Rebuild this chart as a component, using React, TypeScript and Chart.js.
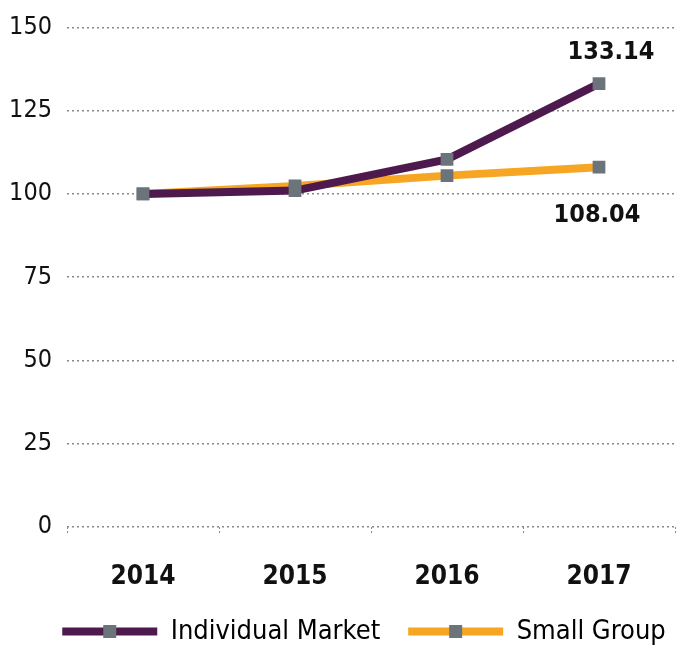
import React, { useEffect, useRef } from "react";
import { Chart, registerables } from "chart.js";

Chart.register(...registerables);

const years = ["2014", "2015", "2016", "2017"];
const individualMarket = [100, 101.0, 110.4, 133.14];
const smallGroup = [100, 102.4, 105.5, 108.04];
const yTicks = [0, 25, 50, 75, 100, 125, 150];

const FONT = "'Liberation Sans Narrow', 'DejaVu Sans Condensed', 'Open Sans', sans-serif";
const PURPLE = "#4e1a4d";
const ORANGE = "#f6a623";
const MARKER = "#6b737b";
const LEGEND_DX = 25;
const LEGEND_DY = -30;

const endLabels = {
  id: "endLabels",
  afterDatasetsDraw(chart: any) {
    const ctx = chart.ctx;
    ctx.save();
    ctx.font = `bold 25px ${FONT}`;
    ctx.fillStyle = "#111";
    ctx.textAlign = "center";
    ctx.textBaseline = "middle";
    const last = years.length - 1;
    const p0 = chart.getDatasetMeta(0).data[last];
    ctx.fillText(individualMarket[last].toFixed(2), p0.x + 12, p0.y - 31);
    const p1 = chart.getDatasetMeta(1).data[last];
    ctx.fillText(smallGroup[last].toFixed(2), p1.x - 2, p1.y + 48);
    ctx.restore();
  },
};

const legendMarkers = {
  id: "legendMarkers",
  afterLayout(chart: any) {
    const legend = chart.legend;
    if (!legend) return;
    legend.left += LEGEND_DX;
    legend.right += LEGEND_DX;
    legend.top += LEGEND_DY;
    legend.bottom += LEGEND_DY;
  },
  afterDraw(chart: any) {
    const legend = chart.legend;
    if (!legend || !legend.legendHitBoxes) return;
    const ctx = chart.ctx;
    const bw = legend.options.labels.boxWidth;
    ctx.save();
    ctx.fillStyle = MARKER;
    legend.legendHitBoxes.forEach((hb: any) => {
      const cx = hb.left + bw / 2;
      const cy = hb.top + hb.height / 2;
      ctx.fillRect(cx - 6.5, cy - 6.5, 13, 13);
    });
    ctx.restore();
  },
};

export default function App() {
  const ref = useRef<HTMLCanvasElement>(null);
  useEffect(() => {
    document.body.style.margin = "0";
    Chart.defaults.font.family = FONT;
    const chart = new Chart(ref.current!, {
      type: "line",
      data: {
        labels: years,
        datasets: [
          {
            label: "Individual Market",
            data: individualMarket,
            borderColor: PURPLE,
            backgroundColor: PURPLE,
            borderWidth: 8,
            pointStyle: "rect",
            pointRadius: 9,
            pointBorderWidth: 0,
            pointBackgroundColor: MARKER,
            pointBorderColor: MARKER,
            tension: 0,
          },
          {
            label: "Small Group",
            data: smallGroup,
            borderColor: ORANGE,
            backgroundColor: ORANGE,
            borderWidth: 8,
            pointStyle: "rect",
            pointRadius: 9,
            pointBorderWidth: 0,
            pointBackgroundColor: MARKER,
            pointBorderColor: MARKER,
            tension: 0,
          },
        ],
      },
      options: {
        responsive: false,
        animation: false,
        layout: { padding: { top: 23, right: 6, left: 0, bottom: -35 } },
        plugins: {
          tooltip: { enabled: false },
          legend: {
            position: "bottom",
            labels: {
              boxWidth: 95,
              boxHeight: 8,
              padding: 28,
              color: "#111",
              font: { size: 27 },
              generateLabels(chart: any) {
                return chart.data.datasets.map((ds: any, i: number) => ({
                  text: ds.label,
                  fillStyle: ds.borderColor,
                  strokeStyle: ds.borderColor,
                  lineWidth: 0,
                  datasetIndex: i,
                  hidden: false,
                }));
              },
            },
          },
        },
        scales: {
          x: {
            offset: true,
            border: { display: false },
            grid: {
              offset: true,
              drawOnChartArea: false,
              drawTicks: true,
              tickLength: 8,
              tickColor: "#888",
              tickWidth: 1,
              tickBorderDash: [2, 2],
            },
            ticks: {
              color: "#111",
              padding: 27,
              font: { size: 26, weight: "bold" },
            },
          },
          y: {
            min: 0,
            max: 150,
            afterBuildTicks(scale: any) {
              scale.ticks = yTicks.map((v) => ({ value: v }));
            },
            afterFit(scale: any) {
              scale.width = 67;
            },
            border: { display: false, dash: [2, 3] },
            grid: { color: "#888", lineWidth: 1.5, drawTicks: false },
            ticks: {
              color: "#111",
              padding: 15,
              font: { size: 25, lineHeight: 1 },
            },
          },
        },
      },
      plugins: [endLabels, legendMarkers],
    });
    return () => chart.destroy();
  }, []);
  return <canvas ref={ref} width={684} height={650} style={{ display: "block" }} />;
}
